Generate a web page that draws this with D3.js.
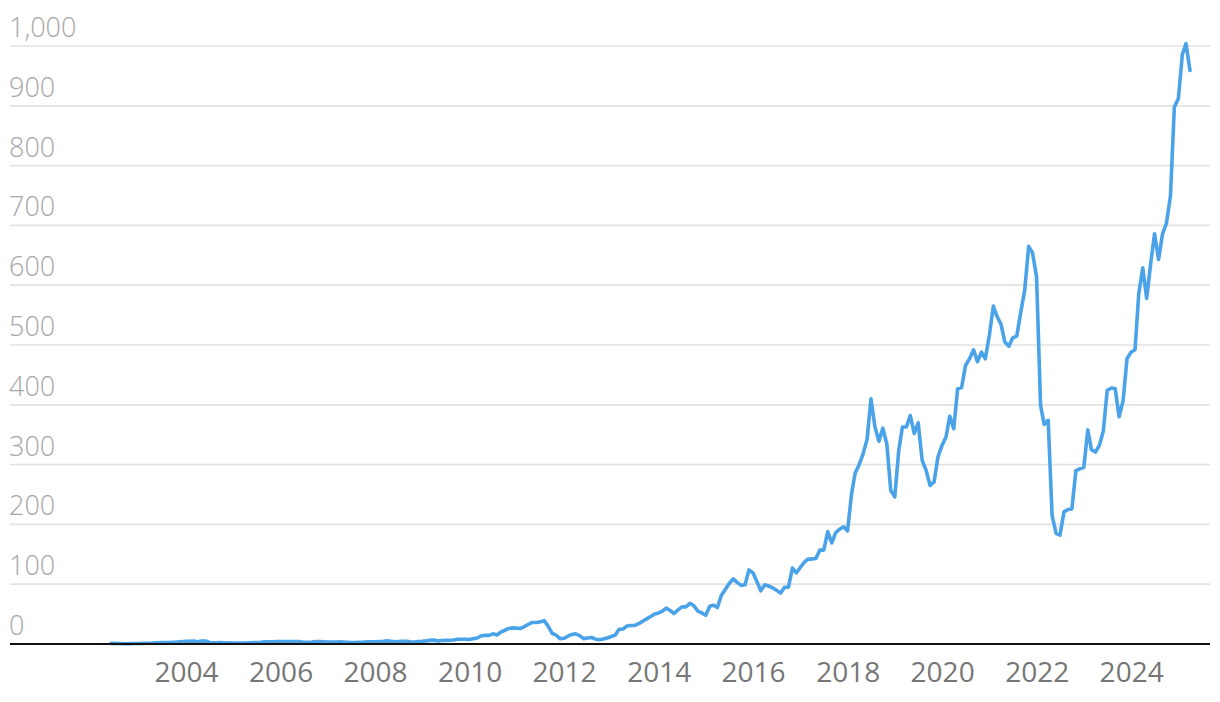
<!DOCTYPE html>
<html>
<head>
<meta charset="utf-8">
<script src="https://cdn.jsdelivr.net/npm/d3@7"></script>
<style>
  html, body { margin: 0; padding: 0; background: #ffffff; }
  svg { display: block; }
</style>
</head>
<body>
<svg id="chart" width="1220" height="702"></svg>
<script>
// Monthly closing values, one per month-end, starting May 2002 and ending March 2025
const firstMonth = "2002-05";
const closes = [
  1.1, 1.0, 0.8, 0.6, 0.5, 0.7, 0.8,
  0.9, 1.0, 1.2, 1.3, 1.8, 1.9, 2.3, 2.4, 2.3, 2.8, 3.4, 3.9,
  4.6, 4.6, 4.9, 3.7, 4.8, 5.1, 2.5, 2.1, 2.2, 2.4, 1.7, 1.8,
  1.6, 1.6, 1.6, 1.6, 2.0, 2.3, 2.5, 2.9, 3.7, 3.8, 3.7, 3.9,
  3.9, 4.0, 4.1, 3.9, 4.2, 3.9, 2.8, 2.9, 3.3, 4.0, 3.9, 3.7,
  3.3, 3.2, 3.3, 3.5, 3.1, 2.8, 2.5, 2.5, 3.0, 2.9, 3.5, 3.8,
  3.7, 3.9, 4.2, 5.2, 4.6, 3.7, 4.2, 4.4, 4.4, 3.6, 3.2, 4.3,
  4.5, 5.2, 6.1, 6.5, 5.2, 5.9, 6.1, 6.3, 6.6, 7.9, 7.9, 7.9,
  7.5, 9, 10, 13.5, 14.5, 14.5, 17, 15, 20, 23, 26, 27,
  26.5, 26, 29, 33, 36, 36, 37, 39, 30, 18, 15, 9,
  9.5, 13, 16, 17, 14, 9, 10, 11, 8, 7, 8.5, 10,
  12.5, 15, 24.5, 25, 30, 31, 31, 34, 38, 42, 46, 50,
  52, 55, 60, 56, 51, 57, 62, 62, 68, 64, 55, 52,
  48, 63, 65, 61, 81, 91, 101, 109, 103, 98, 99, 124,
  119, 104, 89, 99, 97, 94, 90, 85, 95, 95, 127, 119,
  128, 137, 142, 142, 143, 157, 157, 188, 169, 186, 192, 196,
  189, 251, 286, 300, 318, 342, 410, 363, 339, 361, 334, 257,
  246, 324, 363, 363, 382, 352, 370, 307, 290, 265, 271, 313,
  332, 346, 381, 360, 427, 429, 466, 477, 492, 472, 488, 477,
  516, 565, 548, 535, 505, 498, 512, 515, 555, 591, 665, 654,
  614, 399, 367, 374, 215, 185, 182, 221, 225, 226, 290, 293,
  295, 358, 325, 321, 332, 356, 424, 428, 427, 380, 407, 477,
  488, 492, 586, 629, 578, 636, 686, 643, 686, 704, 749, 898,
  912, 986, 1004, 959
];
const yTicks = [0, 100, 200, 300, 400, 500, 600, 700, 800, 900, 1000];
const xTickYears = [2004, 2006, 2008, 2010, 2012, 2014, 2016, 2018, 2020, 2022, 2024];

// Build month-end dates for each value
const start = d3.timeParse("%Y-%m")(firstMonth);
const monthStarts = d3.timeMonth.range(start, d3.timeMonth.offset(start, closes.length));
const data = monthStarts.map((m, i) => ({
  date: d3.timeDay.offset(d3.timeMonth.offset(m, 1), -1),
  value: closes[i]
}));

const svg = d3.select("#chart");
const gridLeft = 10, gridRight = 1210;
const plotLeft = 111, plotRight = 1190;
const yTop = 46, yBottom = 644;

const x = d3.scaleTime()
  .domain(d3.extent(data, d => d.date))
  .range([plotLeft, plotRight]);
const y = d3.scaleLinear().domain([0, 1000]).range([yBottom, yTop]);

const fontFamily = "'Open Sans', 'Noto Sans', sans-serif";

// Gridlines (excluding zero, drawn as baseline later)
svg.append("g")
  .selectAll("line")
  .data(yTicks.filter(t => t !== 0))
  .join("line")
  .attr("x1", gridLeft).attr("x2", gridRight)
  .attr("y1", d => y(d)).attr("y2", d => y(d))
  .attr("stroke", "#e2e2e2")
  .attr("stroke-width", 1.7);

// Y tick labels
svg.append("g")
  .selectAll("text")
  .data(yTicks)
  .join("text")
  .attr("x", 9)
  .attr("y", d => y(d) - 9)
  .attr("font-family", fontFamily)
  .attr("font-size", 27)
  .attr("font-weight", 300)
  .attr("fill", "#a6a6a6")
  .text(d => d3.format(",")(d));

// Line
const line = d3.line()
  .x(d => x(d.date))
  .y(d => y(d.value))
  .curve(d3.curveLinear);

svg.append("path")
  .datum(data)
  .attr("fill", "none")
  .attr("stroke", "#4aa3e8")
  .attr("stroke-width", 3.6)
  .attr("stroke-linejoin", "round")
  .attr("stroke-linecap", "round")
  .attr("d", line);

// Baseline
svg.append("line")
  .attr("x1", gridLeft).attr("x2", gridRight)
  .attr("y1", y(0)).attr("y2", y(0))
  .attr("stroke", "#111111")
  .attr("stroke-width", 2);

// X axis labels via d3 axis
const xAxis = d3.axisBottom(x)
  .tickValues(xTickYears.map(yr => new Date(yr, 0, 1)))
  .tickFormat(d3.timeFormat("%Y"))
  .tickSize(0)
  .tickPadding(0);

const gx = svg.append("g")
  .attr("transform", `translate(0, ${y(0)})`)
  .call(xAxis);
gx.select(".domain").remove();
gx.selectAll("text")
  .attr("dy", null)
  .attr("y", 38)
  .attr("font-family", fontFamily)
  .attr("font-size", 28)
  .attr("font-weight", 400)
  .attr("fill", "#767676");
</script>
</body>
</html>
